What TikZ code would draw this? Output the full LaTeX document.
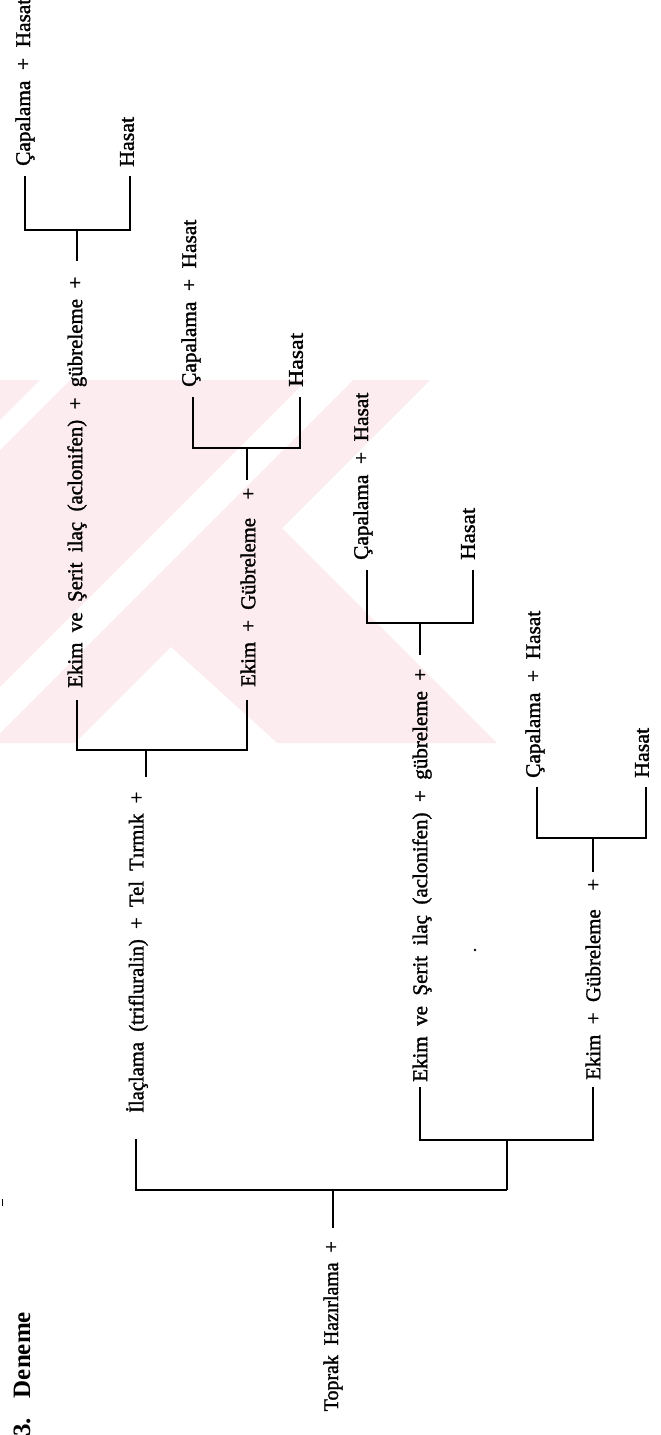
\documentclass[tikz,border=0pt]{standalone}
\usepackage{fontspec}
\usepackage{graphicx}
\setmainfont{Liberation Serif}
\newfontfamily\lbfamily[FakeBold=1.5]{Liberation Serif}
\newcommand\lbfont{\lbfamily\fontsize{21}{23}\selectfont\spaceskip=0.5em\relax}
\newcommand\fw[2]{\resizebox{#1pt}{\height}{#2}}
\definecolor{wm}{RGB}{252,235,239}
\tikzset{
  lbl/.style={rotate=90, inner sep=0pt, font=\lbfont},
  ln/.style={line width=2.6pt, line cap=butt},
  speck/.style={fill=black, draw=none}
}
\begin{document}
\begin{tikzpicture}[x=1pt, y=-1pt]
\useasboundingbox (0,0) rectangle (661,1435);
% watermark (approximate)
\begin{scope}
\clip (0,380) rectangle (600,743);
\fill[wm] (0,380) -- (430,380) -- (282,528) -- (497,743) -- (0,743) -- cycle;
\fill[white] (687,0) -- (733,0) -- (0,733) -- (0,687) -- cycle;
\fill[white] (420,0) -- (450,0) -- (0,450) -- (0,420) -- cycle;
\fill[white] (75,743) -- (171,647) -- (277,743) -- cycle;
\end{scope}
% heading
\node[rotate=90, anchor=west, inner sep=0pt, font=\fontsize{25}{28}\selectfont\bfseries] (title) at (22,1437) {3.\hspace{20pt}Deneme};
% texts
\node[lbl, anchor=east] (toprak) at (333,1241) {\fw{170}{Toprak Hazırlama +}};
\node[lbl, anchor=west] (ilac) at (137,1113) {\fw{321}{İlaçlama (trifluralin) + Tel Tırmık +}};
\node[lbl, anchor=west] (ekimA1) at (77,688) {\fw{411}{Ekim ve Şerit ilaç (aclonifen) + gübreleme +}};
\node[lbl, anchor=west] (ekimB1) at (248,687) {\fw{199}{Ekim + Gübreleme\hspace{0.9em}+}};
\node[lbl, anchor=west] (ekimA2) at (422,1082) {\fw{413}{Ekim ve Şerit ilaç (aclonifen) + gübreleme +}};
\node[lbl, anchor=west] (ekimB2) at (593,1080) {\fw{201}{Ekim + Gübreleme\hspace{0.9em}+}};
\node[lbl, anchor=west] (cap1) at (25,166) {\fw{167}{Çapalama + Hasat}};
\node[lbl, anchor=west] (has1) at (127,167) {\fw{50}{Hasat}};
\node[lbl, anchor=west] (cap2) at (191,387) {\fw{167}{Çapalama + Hasat}};
\node[lbl, anchor=west] (has2) at (296,387) {\fw{54}{Hasat}};
\node[lbl, anchor=west] (cap3) at (363,560) {\fw{167}{Çapalama + Hasat}};
\node[lbl, anchor=west] (has3) at (468,560) {\fw{52}{Hasat}};
\node[lbl, anchor=west] (cap4) at (535,778) {\fw{167}{Çapalama + Hasat}};
\node[lbl, anchor=west] (has4) at (642,778) {\fw{50}{Hasat}};
% bracket coordinates
\coordinate (tS) at (333,1228);   \coordinate (tJ) at (333,1190);
\coordinate (tL) at (136,1139);   \coordinate (m2S) at (507,1190);
\coordinate (m2J) at (507,1140);
\coordinate (m2L) at (420,1087);  \coordinate (m2R) at (593,1087);
\coordinate (m1S) at (146,777);   \coordinate (m1J) at (146,750);
\coordinate (m1L) at (77,700);    \coordinate (m1R) at (247,700);
\coordinate (b1S) at (77,261);    \coordinate (b1J) at (77,230);
\coordinate (b1L) at (25,176);    \coordinate (b1R) at (130,176);
\coordinate (b2S) at (247,480);   \coordinate (b2J) at (247,448);
\coordinate (b2L) at (193,397);   \coordinate (b2R) at (300,397);
\coordinate (b3S) at (420,655);   \coordinate (b3J) at (420,623);
\coordinate (b3L) at (367,570);   \coordinate (b3R) at (473,570);
\coordinate (b4S) at (593,872);   \coordinate (b4J) at (593,838);
\coordinate (b4L) at (537,787);   \coordinate (b4R) at (646,787);
% connectors
\draw[ln] (tS) -- (tJ);
\draw[ln] (tL) |- (tJ) -- (m2S);
\draw[ln] (m2S) -- (m2J);
\draw[ln] (m2L) |- (m2J) -| (m2R);
\draw[ln] (m1S) -- (m1J);
\draw[ln] (m1L) |- (m1J) -| (m1R);
\draw[ln] (b1S) -- (b1J);
\draw[ln] (b1L) |- (b1J) -| (b1R);
\draw[ln] (b2S) -- (b2J);
\draw[ln] (b2L) |- (b2J) -| (b2R);
\draw[ln] (b3S) -- (b3J);
\draw[ln] (b3L) |- (b3J) -| (b3R);
\draw[ln] (b4S) -- (b4J);
\draw[ln] (b4L) |- (b4J) -| (b4R);
% scan specks
\fill[speck] (475,950) circle (1.3);
\fill[speck] (1.5,1199) rectangle (3,1206);
\end{tikzpicture}
\end{document}
